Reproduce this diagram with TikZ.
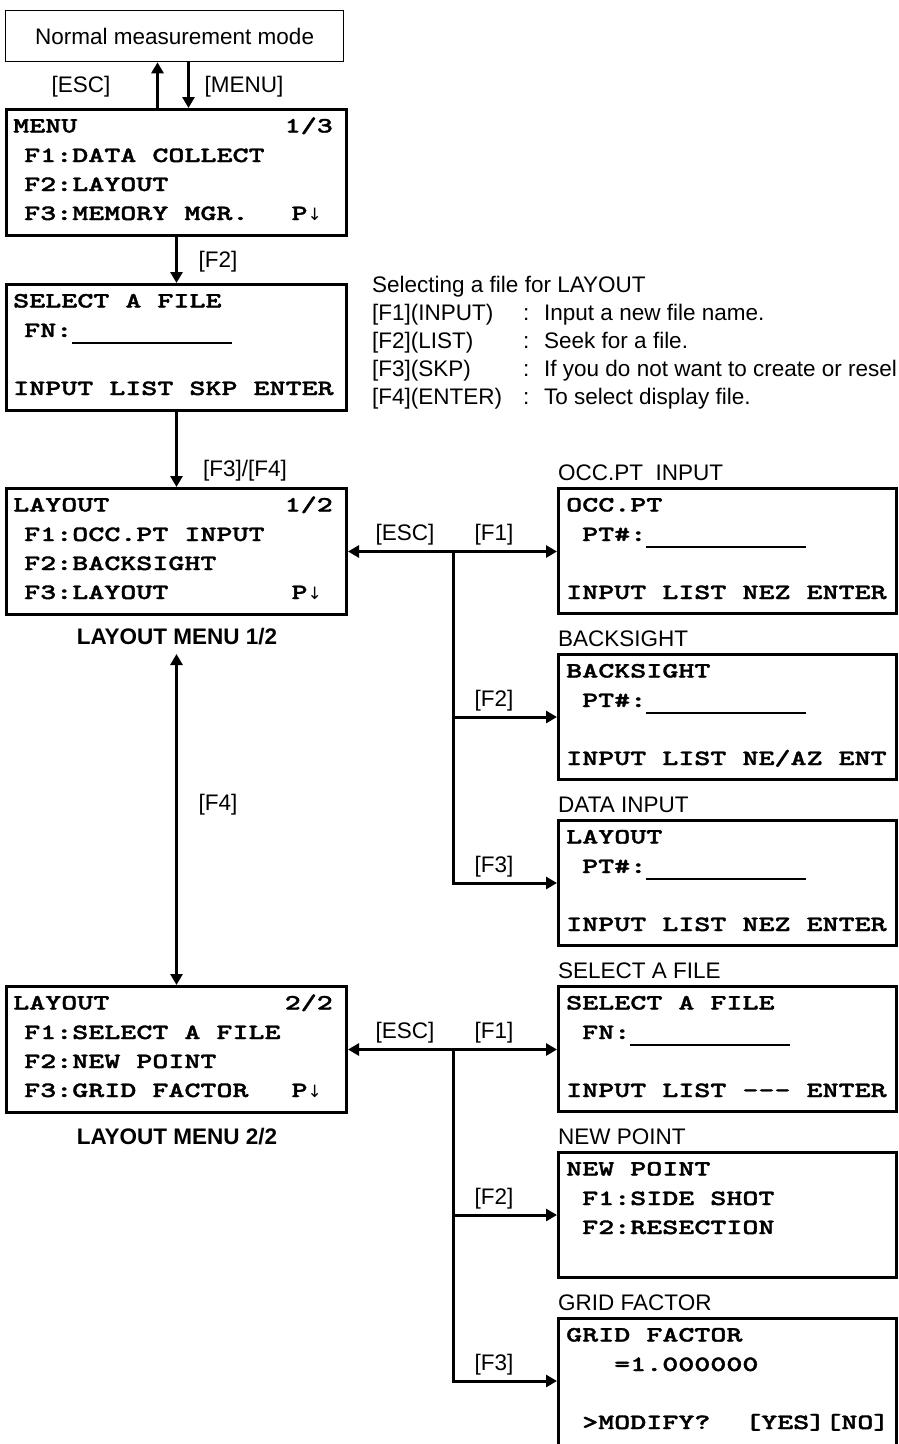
\documentclass[tikz,border=0pt]{standalone}
\usepackage{fontspec}
\setmainfont{Liberation Sans}
\newfontfamily\lcdfnt{lmmonolt10-bold.otf}[FakeStretch=1.40, FakeBold=1.6, Ligatures=TeXOff]
\newfontfamily\arrowfnt{DejaVu Sans}
\usetikzlibrary{arrows.meta}
\newcommand\lcdtext{\lcdfnt\fontsize{21.8}{21.8}\selectfont}
\newcommand\annfont{\fontsize{22.5}{27}\selectfont}
\newcommand\pdn{P{\arrowfnt\fontsize{17}{17}\selectfont ↓}}
\newcommand\uline[1]{\rule[-7pt]{#1}{2.4pt}}
\begin{document}
\begin{tikzpicture}[x=1pt,y=-1pt,
  screen/.style={draw, line width=3pt, minimum width=340pt, minimum height=126pt, anchor=north west, inner sep=0pt},
  rscreen/.style={screen, minimum width=338pt, minimum height=125pt},
  normbox/.style={draw, line width=1.3pt, minimum width=338pt, minimum height=51pt, anchor=north west, font=\annfont},
  ln/.style={anchor=base west, inner sep=0pt, font=\lcdtext},
  lnr/.style={anchor=base east, inner sep=0pt, font=\lcdtext},
  lab/.style={inner sep=0pt, font=\annfont},
  boxcap/.style={anchor=base west, inner sep=0pt, font=\annfont},
  arr/.style={line width=3pt, -{Triangle[length=11pt,width=12pt]}},
  darr/.style={line width=3pt, {Triangle[length=11pt,width=12pt]}-{Triangle[length=11pt,width=12pt]}},
  wire/.style={line width=3pt}]
\useasboundingbox (0,0) rectangle (898,1444);

% ---------- top ----------
\node[normbox] (normal) at (5,10) {Normal measurement mode};
\node[screen] (menu) at (5,108) {};
\node[ln] (m1) at (13,132.5) {MENU};
\node[lnr] (m1r) at (333,132.5) {1/3};
\node[ln] (m2) at (24,162) {F1:DATA COLLECT};
\node[ln] (m3) at (24,191) {F2:LAYOUT};
\node[ln] (m4) at (24,220) {F3:MEMORY MGR.};
\node[lnr] (m4r) at (322,220) {\pdn};
\draw[arr] ([xshift=-19pt]menu.north) -- ([xshift=-19pt]menu.north |- normal.south);
\draw[arr] ([xshift=12pt]menu.north |- normal.south) -- ([xshift=12pt]menu.north);
\node[lab] (kesc0) at (81,87) {[ESC]};
\node[lab] (kmenu) at (244,87) {[MENU]};

% ---------- select a file ----------
\node[screen] (sel) at (5,283) {};
\node[ln] (s1) at (13,307.5) {SELECT A FILE};
\node[ln] (s2) at (24,337) {FN:\uline{160pt}};
\node[ln] (s4) at (13,395) {INPUT LIST SKP ENTER};
\draw[arr] (menu.south) -- (sel.north);
\node[lab] (kf2a) at (218,262) {[F2]};

\node[boxcap] (a0) at (372,292) {Selecting a file for LAYOUT};
\node[boxcap] (a1) at (372,320) {\makebox[151pt][l]{[F1](INPUT)}\makebox[21pt][l]{:}Input a new file name.};
\node[boxcap] (a2) at (372,348) {\makebox[151pt][l]{[F2](LIST)}\makebox[21pt][l]{:}Seek for a file.};
\node[boxcap] (a3) at (372,376) {\makebox[151pt][l]{[F3](SKP)}\makebox[21pt][l]{:}If you do not want to create or resel};
\node[boxcap] (a4) at (372,404) {\makebox[151pt][l]{[F4](ENTER)}\makebox[21pt][l]{:}To select display file.};

% ---------- layout 1/2 ----------
\node[screen] (lay1) at (5,487) {};
\node[ln] (l11) at (13,511.5) {LAYOUT};
\node[lnr] (l11r) at (333,511.5) {1/2};
\node[ln] (l12) at (24,541) {F1:OCC.PT INPUT};
\node[ln] (l13) at (24,570) {F2:BACKSIGHT};
\node[ln] (l14) at (24,599) {F3:LAYOUT};
\node[lnr] (l14r) at (322,599) {\pdn};
\draw[arr] (sel.south) -- (lay1.north);
\node[lab] (kf34) at (245,471) {[F3]/[F4]};
\node[lab, font=\annfont\bfseries] (lm1) at (177,637) {LAYOUT MENU 1/2};

% ---------- layout 2/2 ----------
\node[screen] (lay2) at (5,985) {};
\node[ln] (l21) at (13,1009.5) {LAYOUT};
\node[lnr] (l21r) at (333,1009.5) {2/2};
\node[ln] (l22) at (24,1039) {F1:SELECT A FILE};
\node[ln] (l23) at (24,1068) {F2:NEW POINT};
\node[ln] (l24) at (24,1097) {F3:GRID FACTOR};
\node[lnr] (l24r) at (322,1097) {\pdn};
\node[lab, font=\annfont\bfseries] (lm2) at (177,1137) {LAYOUT MENU 2/2};
\coordinate (f4top) at (lay2.north |- 0,654);
\draw[darr] (f4top) -- (lay2.north);
\node[lab] (kf4) at (218,805) {[F4]};

% ---------- right column, upper group ----------
\node[boxcap] (c1) at (558,480) {OCC.PT\ \ INPUT};
\node[rscreen] (occ) at (557,487) {};
\node[ln] (o1) at (566,511.5) {OCC.PT};
\node[ln] (o2) at (582,541) {PT\#:\uline{160pt}};
\node[ln] (o4) at (566,599) {INPUT LIST NEZ ENTER};

\node[boxcap] (c2) at (558,646) {BACKSIGHT};
\node[rscreen] (back) at (557,653) {};
\node[ln] (b1) at (566,677.5) {BACKSIGHT};
\node[ln] (b2) at (582,707) {PT\#:\uline{160pt}};
\node[ln] (b4) at (566,765) {INPUT LIST NE/AZ ENT};

\node[boxcap] (c3) at (558,812) {DATA INPUT};
\node[rscreen] (data) at (557,819) {};
\node[ln] (d1) at (566,843.5) {LAYOUT};
\node[ln] (d2) at (582,873) {PT\#:\uline{160pt}};
\node[ln] (d4) at (566,931) {INPUT LIST NEZ ENTER};

\draw[darr] (lay1.east) -- (lay1.east -| occ.west);
\coordinate (br1) at (453,551.5);
\draw[arr] (br1) |- (back.west);
\draw[arr] (br1) |- (data.west);
\node[lab] (kesc1) at (405,535) {[ESC]};
\node[lab] (kf1a) at (494,535) {[F1]};
\node[lab] (kf2b) at (494,701) {[F2]};
\node[lab] (kf3a) at (494,867) {[F3]};

% ---------- right column, lower group ----------
\node[boxcap] (c4) at (558,978) {SELECT A FILE};
\node[rscreen] (sel2) at (557,985) {};
\node[ln] (t1) at (566,1009.5) {SELECT A FILE};
\node[ln] (t2) at (582,1039) {FN:\uline{160pt}};
\node[ln] (t4) at (566,1097) {INPUT LIST --- ENTER};

\node[boxcap] (c5) at (558,1144) {NEW POINT};
\node[rscreen] (newpt) at (557,1151) {};
\node[ln] (n1) at (566,1175.5) {NEW POINT};
\node[ln] (n2) at (582,1205) {F1:SIDE SHOT};
\node[ln] (n3) at (582,1234) {F2:RESECTION};

\node[boxcap] (c6) at (558,1310) {GRID FACTOR};
\node[rscreen, minimum height=134pt] (grid) at (557,1317) {};
\node[ln] (g1) at (566,1341.5) {GRID FACTOR};
\node[ln] (g2) at (614,1371) {=1.000000};
\node[ln] (g4) at (582,1429) {>MODIFY?};
\node[ln] (g4r) at (745,1429) {[YES][NO]};

\draw[darr] (lay2.east) -- (lay2.east -| sel2.west);
\coordinate (br2) at (453,1049.5);
\draw[arr] (br2) |- (newpt.west);
\draw[arr] (br2) |- ([yshift=4.5pt]grid.west);
\node[lab] (kesc2) at (405,1033) {[ESC]};
\node[lab] (kf1b) at (494,1033) {[F1]};
\node[lab] (kf2c) at (494,1199) {[F2]};
\node[lab] (kf3b) at (494,1365) {[F3]};
\end{tikzpicture}
\end{document}
